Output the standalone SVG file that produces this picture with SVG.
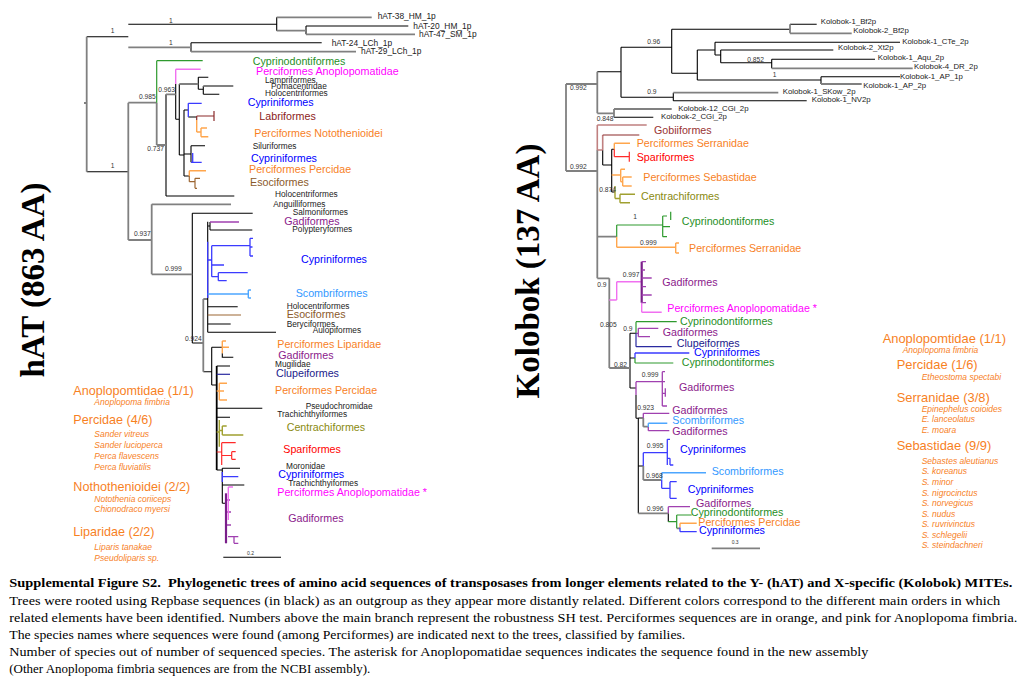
<svg xmlns="http://www.w3.org/2000/svg" width="1020" height="692" viewBox="0 0 1020 692">
<style>
.k{stroke:#000;stroke-width:1.1;fill:none}
.g{stroke:#808080;stroke-width:1.8;fill:none}
.sg{stroke:#2e9a2e;stroke-width:1.2;fill:none}
.sm{stroke:#f070f0;stroke-width:1.4;fill:none}
.sb{stroke:#3b3bff;stroke-width:1.3;fill:none}
.sdr{stroke:#8b2a2a;stroke-width:1.2;fill:none}
.so{stroke:#ffa64d;stroke-width:1.4;fill:none}
.sbr{stroke:#9c6633;stroke-width:1.2;fill:none}
.sp{stroke:#a040b0;stroke-width:1.3;fill:none}
.spd{stroke:#7a1f8a;stroke-width:2.2;fill:none}
.sl{stroke:#4da6ff;stroke-width:1.4;fill:none}
.sn{stroke:#2a2aa0;stroke-width:1.2;fill:none}
.sol{stroke:#a0a030;stroke-width:1.4;fill:none}
.sr{stroke:#ff2a2a;stroke-width:1.2;fill:none}
.srs{stroke:#c08080;stroke-width:1.6;fill:none}
text{font-family:"Liberation Sans",Arial,sans-serif}
.lb{font-size:10.7px}
.bl{font-size:8.3px;fill:#222}
.kl{font-size:7.8px;fill:#222}
.sv{font-size:6.7px;fill:#333}
.hd{font-size:12.6px;fill:#f7811f}
.hd2{font-size:12.9px;fill:#f7811f}
.spn{font-size:8.5px;font-style:italic;fill:#f7811f}
.cap{font-family:"Liberation Serif","Times New Roman",serif;font-size:13px;fill:#000}
.ttl{font-family:"Liberation Serif","Times New Roman",serif;font-size:33px;font-weight:bold;fill:#000}
.cG{fill:#1f8f1f}.cM{fill:#ff00ff}.cB{fill:#0000ff}.cDR{fill:#8b1a1a}.cO{fill:#f7811f}.cBr{fill:#8b5a2b}
.cP{fill:#8b1a8b}.cL{fill:#3399ff}.cN{fill:#1a1a8c}.cOl{fill:#8a8a10}.cR{fill:#ff0000}.cGo{fill:#993333}
</style>

<g id="titles">
<text class="ttl" transform="translate(43.5,280) rotate(-90)" text-anchor="middle">hAT (863 AA)</text>
<text class="ttl" transform="translate(539,271) rotate(-90)" text-anchor="middle">Kolobok (137 AA)</text>
</g>

<g id="hat-branches">
<path class="k" d="M84,103H86.7M86.7,36.7H128.3M128.3,24.3H276.7M276.7,17.3V30.7M306,26V34.3M306,26H408.3M191,42.7V51.7M191,42.7H321.7M86.7,171.7H128.3M166,94.3V196M179.3,84V155M198.3,77.3V89.3M198.3,77.3H208.3M198.3,89.3H203.3M203.3,86V94.3M203.3,94.3H219.3M175.7,84V119.3M175.7,119.3H179.3M179.3,155H184M184,110V176M184,110H188.3M188.3,117H196.7M191,145.7V162.3M184,154H191M191,145.7H205M184,176H189.3M166,196H234.3M192.3,213.3V343M192.3,213.3H252.7M192.3,343H203.3M203.3,299H207.7M207.7,221.7V332.3M207.7,226H210M210,222V230M210,230H252.3M207.7,306.7H237.7M207.7,324H230.7M207.7,332.3H276M203.3,371.7H211.7M211.7,347.3V385M211.7,347.3H222.3M222.3,353.3V357.3H233.3M211.7,385H216.7M216.7,366H230M216.7,408.3H262.3M216.7,417.3H230M216.7,470H222.3M222.3,468.3V503.3M222.3,468.3H240M222.3,485H244.3M222.3,503.3H226M223.3,557.3H281"/>
<path class="k" style="stroke-width:1.8" d="M216.7,366V470"/>
<path class="g" d="M86.7,36.7V171.7M128.3,47.3H191M276.7,17.3H371.7M276.7,30.7H306M306,34.3H415M191,51.7H356M128.3,102.7V240M128.3,102.7H156.7M156.7,102.7V145M156.7,145H166M166,94.3H175.7M179.3,84H198.3M203.3,86H233.3M128.3,240H151.7M151.7,204.3V274.3M151.7,204.3H231M151.7,274.3H192.3M203.3,299V371.7"/>
<path class="sg" d="M156.7,60.7V102.7M156.7,60.7H202.7"/>
<path class="sm" d="M175.7,69.3V84M175.7,69.3H200.7"/>
<path class="sb" d="M188.3,103.3V117M188.3,103.3H201.7M192.7,153V162.3M191,162.3H201.7M207.7,241.7V298M207.7,260H211.7M211.7,245.7V276.7M211.7,245.7H250M250,238.3V256M250,238.3H253M250,256H253M250,247H252.5M211.7,265H224M211.7,276.7H218.3M218.3,272.7V280.7M218.3,272.7H247.7M218.3,280.7H226.7M222.3,472V482M222.3,476.7H238.3"/>
<path class="sdr" d="M196.7,116V120M196.7,116H214M214,111V121"/>
<path class="so" d="M196.7,120V132M196.7,132H201M201,128V136.7M201,128H207M201,136.7H208.3M189.3,170.7V176M189.3,170.7H206M222.3,341V353.3M222.3,341H226M222.3,347.3H229M216.7,391H219.3M219.3,383.3V400M219.3,383.3H227M219.3,391H224M219.3,400H227"/>
<path class="sbr" d="M189.3,176V181.7M189.3,181.7H195M195,178.3V188.3M195,178.3H200M195,188.3H197M207.7,315H241"/>
<path class="sp" d="M210,222H239M226,500H230M226,512H231M226,525H231M228,536.7H238.3M234,536.7V543.3M234,543.3H238.3"/>
<path class="spd" d="M226,493.3V543.3"/>
<path class="sm" d="M228.3,487V520M228.3,487H233"/>
<path class="sl" d="M207.7,294H248.3M248.3,290V298M248.3,290H251M248.3,298H251"/>
<path class="sn" d="M216.7,374.3H230"/>
<path class="sol" d="M219.3,420V446.7M216.7,432H219.3M219.3,430.5H222.3M222.3,426V435M222.3,426H226.7M222.3,435H243.3"/>
<path class="sr" d="M216.7,452H221.7M221.7,442.7V465M221.7,442.7H235.7M221.7,455.5H231.7M231.7,451.7V459.3M231.7,451.7H235.7M231.7,459.3H235.7"/>
</g>

<g id="hat-support">
<text class="sv" x="110.7" y="33.3">1</text>
<text class="sv" x="169" y="22.7">1</text>
<text class="sv" x="169" y="45">1</text>
<text class="sv" x="110.7" y="168.3">1</text>
<text class="sv" x="139" y="99.3">0.985</text>
<text class="sv" x="158.3" y="92">0.963</text>
<text class="sv" x="147.3" y="150.7">0.737</text>
<text class="sv" x="134" y="236">0.937</text>
<text class="sv" x="165" y="270.7">0.999</text>
<text class="sv" x="185" y="340.7">0.924</text>
<text class="sv" x="247" y="555" style="font-size:5px">0.2</text>
</g>

<g id="hat-labels">
<text class="kl" style="font-size:8.4px" x="377.7" y="19.3">hAT-38_HM_1p</text>
<text class="kl" style="font-size:8.4px" x="413.3" y="29">hAT-20_HM_1p</text>
<text class="kl" style="font-size:8.4px" x="419" y="36.7">hAT-47_SM_1p</text>
<text class="kl" style="font-size:8.4px" x="331.7" y="46">hAT-24_LCh_1p</text>
<text class="kl" style="font-size:8.4px" x="361" y="54.3">hAT-29_LCh_1p</text>
<text class="lb cG" x="252.7" y="65">Cyprinodontiformes</text>
<text class="lb cM" x="256" y="75.3">Perciformes Anoplopomatidae</text>
<text class="bl" x="265" y="82.5">Lampriformes</text>
<text class="bl" x="271" y="88.6">Pomacentridae</text>
<text class="bl" x="265" y="95.5">Holocentriformes</text>
<text class="lb cB" x="247.7" y="106">Cypriniformes</text>
<text class="lb cDR" x="259.3" y="120">Labriformes</text>
<text class="lb cO" x="254.3" y="136.7">Perciformes Notothenioidei</text>
<text class="bl" x="252.7" y="148.7">Siluriformes</text>
<text class="lb cB" x="251" y="162.3">Cypriniformes</text>
<text class="lb cO" x="249" y="172.7">Perciformes Percidae</text>
<text class="lb cBr" x="250" y="186">Esociformes</text>
<text class="bl" x="275" y="196.7">Holocentriformes</text>
<text class="bl" x="273.3" y="206.7">Anguilliformes</text>
<text class="bl" x="292.7" y="215.3">Salmoniformes</text>
<text class="lb cP" x="284.3" y="225">Gadiformes</text>
<text class="bl" x="292.3" y="232.3">Polypteryformes</text>
<text class="lb cB" x="301" y="263.3">Cypriniformes</text>
<text class="lb cL" x="295.7" y="297.3">Scombriformes</text>
<text class="bl" x="286.7" y="309">Holocentriformes</text>
<text class="lb cBr" x="286.7" y="318.3">Esociformes</text>
<text class="bl" x="286.7" y="326.7">Beryciformes</text>
<text class="bl" x="312.7" y="333.3">Aulopiformes</text>
<text class="lb cO" x="277.3" y="347.7">Perciformes Liparidae</text>
<text class="lb cP" x="278.3" y="359.3">Gadiformes</text>
<text class="bl" x="275" y="367.3">Mugilidae</text>
<text class="lb cN" x="276" y="376.7">Clupeiformes</text>
<text class="lb cO" x="275" y="394">Perciformes Percidae</text>
<text class="bl" x="305.7" y="408.7">Pseudochromidae</text>
<text class="bl" x="277.3" y="417.3">Trachichthyiformes</text>
<text class="lb cOl" x="286.7" y="430.7">Centrachiformes</text>
<text class="lb cR" x="283.3" y="452.7">Spariformes</text>
<text class="bl" x="286" y="468.7">Moronidae</text>
<text class="lb cB" x="278.3" y="478.3">Cypriniformes</text>
<text class="bl" x="288.3" y="486">Trachichthyiformes</text>
<text class="lb cM" x="277.3" y="496">Perciformes Anoplopomatidae *</text>
<text class="lb cP" x="288.3" y="522.3">Gadiformes</text>
</g>

<g id="hat-legend">
<text class="hd" x="73.3" y="395">Anoplopomtidae (1/1)</text>
<text class="spn" x="94.3" y="405">Anoplopoma fimbria</text>
<text class="hd" x="73.3" y="424">Percidae (4/6)</text>
<text class="spn" x="94.3" y="437.3">Sander vitreus</text>
<text class="spn" x="94.3" y="448.3">Sander lucioperca</text>
<text class="spn" x="94.3" y="459">Perca flavescens</text>
<text class="spn" x="94.3" y="469.5">Perca fluviatilis</text>
<text class="hd" x="73.3" y="490.7">Nothothenioidei (2/2)</text>
<text class="spn" x="94.3" y="501.7">Notothenia coriiceps</text>
<text class="spn" x="94.3" y="512.3">Chionodraco myersi</text>
<text class="hd" x="73.3" y="536">Liparidae (2/2)</text>
<text class="spn" x="94.3" y="550">Liparis tanakae</text>
<text class="spn" x="94.3" y="561">Pseudoliparis sp.</text>
</g>

<g id="kolobok-branches">
<path class="k" d="M597.3,71.7H621M621,47.3V97.3M621,47.3H671.7M671.7,29.3V73.3M671.7,29.3H790M790,24.3H816.7M671.7,73.3H697.3M697.3,50V80M697.3,50H715M715,42.3V55M715,42.3H900M715,55H720.7M720.7,50V62.7M720.7,50H833.3M720.7,62.7H771.7M771.7,59.3V68.3M771.7,59.3H875M697.3,80H821M821,76.7V84M821,76.7H900M621,97.3H673.3M673.3,92.7V100.7M673.3,100.7H806.7M614,117.3H653.3M602.7,150V165M602.7,165H611.7M611.7,149.3V192M611.7,149.3H614.3M611.7,192H615M630,333.3V388M630,333.3H636M630,358H635M630,388H636M636,395V418.3M636,418.3H638.3M638.3,418V513.3M638.3,418H643.3M638.3,466H643.3M668.3,513.3V521.7"/>
<path class="g" d="M566,84V171M566,84H597.3M597.3,71.7V113.3M597.3,113.3H614M614,109V117.3M614,109H671.7M790,24.3V33.3M790,33.3H851.7M771.7,68.3H912.7M821,84H861.7M673.3,92.7H778.3M566,171H597.3M597.3,150V278.3M597.3,236.7H616.7M597.3,278.3H609.3M609.3,278.3V368M609.3,368H630M638.3,513.3H668.3M643.3,418V426.7M643.3,426.7H648.3M643.3,466V480M643.3,480H661.7M676.7,528.3H680M711.7,548.3H760"/>
<path class="srs" d="M597.3,125V150M597.3,125H646.7M597.3,150H602.7M602.7,135V150"/>
<path class="sdr" d="M602.7,135H639.3"/>
<path class="so" d="M614.3,143.3V149.3M614.3,143.3H630M611.7,175H620.7M620.7,169.3V181.7M620.7,169.3H625M620.7,181.7H622.7M622.7,177V186M622.7,177H631.7M622.7,186H631.7M616.7,236.7V247.3M616.7,247.3H675.7M675.7,243V253M675.7,243H679M675.7,253H679M680,523.3V527.5M680,523.3H696.7"/>
<path class="sr" d="M614.3,149.3V156.7M614.3,156.7H629.3M629.3,151.7V161.7"/>
<path class="sol" d="M615,186V198.5M615,198.5H620M620,194.3V202.7M620,194.3H635M620,202.7H630"/>
<path class="sg" d="M616.7,225V236.7M616.7,225H662.7M662.7,216V236.7M662.7,216H667M662.7,226.7H670M662.7,236.7H667M670.7,211.7V220M636,321.7V333.3M636,321.7H676.7M635,358V363M635,363H673.3M668.3,521.7H676.7M676.7,515V528.3M676.7,515H691.7"/>
<path class="sm" d="M609.3,300H616.7M616.7,281.7V300M616.7,281.7H641.7M641.7,302.7V312.3M641.7,312.3H661.7"/>
<path class="spd" d="M641.7,261.7V302.7"/>
<path class="sp" d="M641.7,261.7H646M641.7,270H645M641.7,278H651.7M641.7,286.7H646M641.7,295H651.7M641.7,302.7H646M636,333.3H638.3M638.3,328.3V336.7M638.3,328.3H658.3M638.3,336.7H650M636,381.7V395M636,381.7H662.3M662.3,371.7V406M662.3,371.7H665M662.3,381.7H665M662.3,393.3H665.3M665.3,388.3V396.7M662.3,406H667M643.3,413.3V418M643.3,413.3H669.3M648.3,427V430.7M648.3,430.7H669.3M668.3,506.7V513.3M668.3,506.7H690"/>
<path class="sn" d="M636,333.3V346.7M636,346.7H671.7"/>
<path class="sb" d="M635,353V358M635,353H689.3M643.3,452.7V466M643.3,452.7H667.3M667.3,439.3V465M667.3,439.3H670M667.3,458.3H670M670,458.3V465M670,465H673.3M661.7,480V488.3M661.7,488.3H670M670,481.7V498.3M670,481.7H676.7M670,498.3H676.7M680,527.5V531.7M680,531.7H696.7"/>
<path class="sl" d="M648.3,423.3V427M648.3,423.3H667.3M661.7,472.7V480M661.7,472.7H706"/>
</g>

<g id="kolobok-support">
<text class="sv" x="570" y="90">0.992</text>
<text class="sv" x="570" y="168.5">0.992</text>
<text class="sv" x="647.3" y="44">0.96</text>
<text class="sv" x="747.3" y="61.7">0.852</text>
<text class="sv" x="772.7" y="76.5">1</text>
<text class="sv" x="647.3" y="94">0.9</text>
<text class="sv" x="596.7" y="121">0.848</text>
<text class="sv" x="599.3" y="191.7">0.874</text>
<text class="sv" x="633.3" y="219.3">1</text>
<text class="sv" x="640" y="245">0.999</text>
<text class="sv" x="622.7" y="277.3">0.997</text>
<text class="sv" x="597.3" y="287">0.9</text>
<text class="sv" x="600" y="327.3">0.805</text>
<text class="sv" x="623.3" y="330.7">0.9</text>
<text class="sv" x="614" y="366.7">0.82</text>
<text class="sv" x="641.7" y="377.3">0.999</text>
<text class="sv" x="637.3" y="410">0.923</text>
<text class="sv" x="646.7" y="448.3">0.995</text>
<text class="sv" x="646" y="478.3">0.968</text>
<text class="sv" x="646.7" y="510.7">0.996</text>
<text class="sv" x="731.7" y="544" style="font-size:5px">0.3</text>
</g>

<g id="kolobok-labels">
<text class="kl" x="820.7" y="24">Kolobok-1_Bf2p</text>
<text class="kl" x="853.3" y="32.7">Kolobok-2_Bf2p</text>
<text class="kl" x="902.3" y="43.7">Kolobok-1_CTe_2p</text>
<text class="kl" x="838" y="49.5">Kolobok-2_Xt2p</text>
<text class="kl" x="877.7" y="60.3">Kolobok-1_Aqu_2p</text>
<text class="kl" x="914" y="69">Kolobok-4_DR_2p</text>
<text class="kl" x="900" y="78.7">Kolobok-1_AP_1p</text>
<text class="kl" x="863.3" y="87.7">Kolobok-1_AP_2p</text>
<text class="kl" x="782.7" y="93.7">Kolobok-1_SKow_2p</text>
<text class="kl" x="811.7" y="102">Kolobok-1_NV2p</text>
<text class="kl" x="678.3" y="111">Kolobok-12_CGi_2p</text>
<text class="kl" x="661" y="119.3">Kolobok-2_CGi_2p</text>
<text class="lb cGo" x="654" y="134">Gobiiformes</text>
<text class="lb cO" x="636.7" y="147.3">Perciformes Serranidae</text>
<text class="lb cR" x="636.7" y="160.7">Spariformes</text>
<text class="lb cO" x="643.3" y="180.7">Perciformes Sebastidae</text>
<text class="lb cOl" x="641" y="200">Centrachiformes</text>
<text class="lb cG" x="681.7" y="225">Cyprinodontiformes</text>
<text class="lb cO" x="689" y="252.3">Perciformes Serranidae</text>
<text class="lb cP" x="662.3" y="286">Gadiformes</text>
<text class="lb cM" x="667.3" y="312.3">Perciformes Anoplopomatidae *</text>
<text class="lb cG" x="680" y="325">Cyprinodontiformes</text>
<text class="lb cP" x="662.7" y="336">Gadiformes</text>
<text class="lb cN" x="676.7" y="346.7">Clupeiformes</text>
<text class="lb cB" x="694" y="355.7">Cypriniformes</text>
<text class="lb cG" x="681.7" y="366">Cyprinodontiformes</text>
<text class="lb cP" x="679" y="390.7">Gadiformes</text>
<text class="lb cP" x="672.3" y="414">Gadiformes</text>
<text class="lb cL" x="672.3" y="424">Scombriformes</text>
<text class="lb cP" x="672.3" y="435">Gadiformes</text>
<text class="lb cB" x="680" y="453.3">Cypriniformes</text>
<text class="lb cL" x="711.7" y="475">Scombriformes</text>
<text class="lb cB" x="687.7" y="492.7">Cypriniformes</text>
<text class="lb cP" x="696" y="506.7">Gadiformes</text>
<text class="lb cG" x="690.7" y="516">Cyprinodontiformes</text>
<text class="lb cO" x="698.3" y="526">Perciformes Percidae</text>
<text class="lb cB" x="699" y="534.3">Cypriniformes</text>
</g>

<g id="kolobok-legend">
<text class="hd2" x="882.7" y="342.7">Anoplopomtidae (1/1)</text>
<text class="spn" x="902.7" y="352.7">Anoplopoma fimbria</text>
<text class="hd2" x="896.7" y="369.3">Percidae (1/6)</text>
<text class="spn" x="921.7" y="380">Etheostoma spectabi</text>
<text class="hd2" x="896.7" y="401.7">Serranidae (3/8)</text>
<text class="spn" x="921.7" y="412">Epinephelus coioides</text>
<text class="spn" x="921.7" y="422">E. lanceolatus</text>
<text class="spn" x="921.7" y="432.7">E. moara</text>
<text class="hd2" x="896.7" y="450">Sebastidae (9/9)</text>
<text class="spn" x="921.7" y="464">Sebastes aleutianus</text>
<text class="spn" x="921.7" y="474">S. koreanus</text>
<text class="spn" x="921.7" y="485">S. minor</text>
<text class="spn" x="921.7" y="495.7">S. nigrocinctus</text>
<text class="spn" x="921.7" y="506">S. norvegicus</text>
<text class="spn" x="921.7" y="516.7">S. nudus</text>
<text class="spn" x="921.7" y="527.3">S. ruvrivinctus</text>
<text class="spn" x="921.7" y="537.7">S. schlegelii</text>
<text class="spn" x="921.7" y="548.3">S. steindachneri</text>
</g>

<g id="caption">
<text class="cap" style="font-weight:bold" x="9.3" y="587.3" textLength="1003" lengthAdjust="spacingAndGlyphs">Supplemental Figure S2.&#160; Phylogenetic trees of amino acid sequences of transposases from longer elements related to the Y- (hAT) and X-specific (Kolobok) MITEs.</text>
<text class="cap" x="9.3" y="604.5" textLength="991" lengthAdjust="spacingAndGlyphs">Trees were rooted using Repbase sequences (in black) as an outgroup as they appear more distantly related. Different colors correspond to the different main orders in which</text>
<text class="cap" x="9.3" y="621.7" textLength="1008" lengthAdjust="spacingAndGlyphs">related elements have been identified. Numbers above the main branch represent the robustness SH test. Perciformes sequences are in orange, and pink for Anoplopoma fimbria.</text>
<text class="cap" x="9.3" y="638.5" textLength="676" lengthAdjust="spacingAndGlyphs">The species names where sequences were found (among Perciformes) are indicated next to the trees, classified by families.</text>
<text class="cap" x="9.3" y="655.7" textLength="859" lengthAdjust="spacingAndGlyphs">Number of species out of number of sequenced species. The asterisk for Anoplopomatidae sequences indicates the sequence found in the new assembly</text>
<text class="cap" x="9.3" y="672.8" textLength="361" lengthAdjust="spacingAndGlyphs">(Other Anoplopoma fimbria sequences are from the NCBI assembly).</text>
</g>
</svg>
